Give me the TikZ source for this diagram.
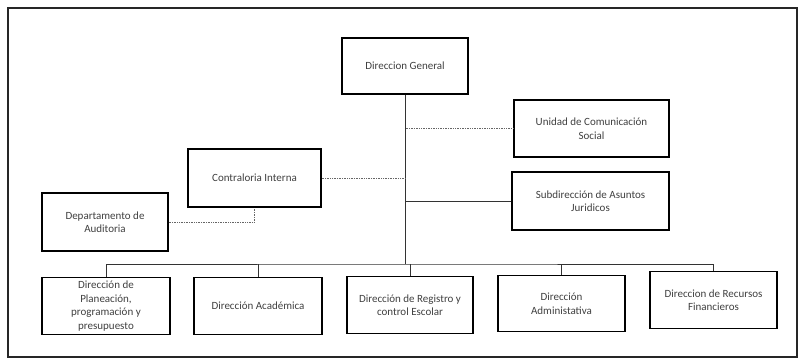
\documentclass[tikz,border=0pt]{standalone}
\usepackage{fontspec}
\setmainfont{Carlito}
\begin{document}
\begin{tikzpicture}[x=1pt,y=-1pt,
  box/.style={draw=black,line width=1.3pt,fill=white,inner sep=0pt,align=center,text=black!75,font=\fontsize{11}{13.5}\selectfont},
  tree/.style={draw=black!80,line width=0.7pt},
  dotline/.style={draw=black!60,line width=0.7pt,densely dotted}]
\useasboundingbox (0,0) rectangle (799,362);
\fill[white] (0,0) rectangle (799,362);
\draw[black!85,line width=1.1pt] (8,8) rectangle (797,357);
% nodes
\node[box,minimum width=126pt,minimum height=56pt] (dg) at (405,66) {Direccion General};
\node[box,minimum width=155pt,minimum height=57pt] (ucs) at (591.5,128.5) {Unidad de Comunicación\\Social};
\node[box,minimum width=157pt,minimum height=58pt] (saj) at (590.5,201) {Subdirección de Asuntos\\Juridicos};
\node[box,minimum width=133pt,minimum height=58pt] (ci) at (254.5,178) {Contraloria Interna};
\node[box,minimum width=126pt,minimum height=58pt] (da) at (105,222) {Departamento de\\Auditoria};
\node[box,minimum width=128pt,minimum height=57pt] (dp) at (106,306) {Dirección de\\Planeación,\\programación y\\presupuesto};
\node[box,minimum width=128pt,minimum height=57pt] (dac) at (258,306) {Dirección Académica};
\node[box,minimum width=126pt,minimum height=57pt] (dr) at (410,305) {Dirección de Registro y\\control Escolar};
\node[box,minimum width=127pt,minimum height=56pt] (dad) at (561.5,303.5) {Dirección\\Administativa};
\node[box,minimum width=127pt,minimum height=57pt] (drf) at (713.5,300) {Direccion de Recursos\\Financieros};
% connectors
\coordinate (bus) at (405,264);
\draw[tree] (dg.south) -- (bus);
\draw[tree] (dp.north) |- (bus) -| (drf.north);
\draw[tree] (dac.north) -- (dac.north |- bus);
\draw[tree] (dr.north) -- (dr.north |- bus);
\draw[tree] (dad.north) -- (dad.north |- bus);
\draw[dotline] (ucs.west) -- (ucs.west -| dg.south);
\draw[tree] (saj.west) -- (saj.west -| dg.south);
\draw[dotline] (ci.east) -- (ci.east -| dg.south);
\draw[dotline] (da.east) -| (ci.south);
\end{tikzpicture}
\end{document}
